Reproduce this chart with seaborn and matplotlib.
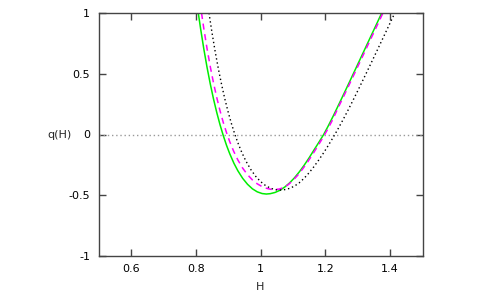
import numpy as np
import pandas as pd
import matplotlib
matplotlib.use('Agg')
import matplotlib.pyplot as plt
import seaborn as sns

# values (left branch, minimum, right branch)
green_h = [0.808, 0.815, 0.825, 0.835, 0.845, 0.855, 0.865, 0.875, 0.885, 0.895,
           0.905, 0.918, 0.930, 0.945, 0.960, 0.975, 0.990, 1.005, 1.018,
           1.030, 1.045, 1.060, 1.075, 1.090, 1.105, 1.120, 1.135, 1.150, 1.165,
           1.180, 1.195, 1.210, 1.225, 1.240, 1.260, 1.280, 1.300, 1.320, 1.340,
           1.360, 1.375]
green_q = [1.000, 0.873, 0.705, 0.553, 0.416, 0.292, 0.181, 0.081, -0.008, -0.088,
           -0.158, -0.237, -0.298, -0.361, -0.410, -0.447, -0.472, -0.486, -0.490,
           -0.487, -0.477, -0.459, -0.432, -0.398, -0.356, -0.307, -0.252, -0.192, -0.128,
           -0.065, 0.000, 0.075, 0.155, 0.238, 0.350, 0.463, 0.577, 0.691, 0.805,
           0.919, 1.005]

magenta_h = [0.818, 0.825, 0.835, 0.845, 0.855, 0.865, 0.875, 0.885, 0.895, 0.905,
             0.917, 0.930, 0.945, 0.960, 0.975, 0.990, 1.005, 1.020, 1.032, 1.044,
             1.058, 1.072, 1.086, 1.100, 1.115, 1.130, 1.145, 1.160, 1.175, 1.190,
             1.205, 1.220, 1.240, 1.260, 1.280, 1.300, 1.320, 1.340, 1.360, 1.380]
magenta_q = [1.000, 0.873, 0.707, 0.558, 0.424, 0.304, 0.196, 0.100, 0.016, -0.059,
             -0.137, -0.209, -0.277, -0.331, -0.374, -0.406, -0.429, -0.444, -0.451, -0.453,
             -0.449, -0.436, -0.412, -0.378, -0.335, -0.284, -0.228, -0.167, -0.103, -0.037,
             0.032, 0.108, 0.222, 0.333, 0.445, 0.558, 0.671, 0.785, 0.898, 1.012]

black_h = [0.841, 0.850, 0.860, 0.870, 0.880, 0.890, 0.900, 0.910, 0.920, 0.930,
           0.942, 0.955, 0.970, 0.985, 1.000, 1.015, 1.030, 1.045, 1.059,
           1.074, 1.089, 1.104, 1.119, 1.134, 1.149, 1.164, 1.179, 1.194, 1.209,
           1.224, 1.239, 1.254, 1.269, 1.284, 1.300, 1.320, 1.340, 1.360, 1.380,
           1.400, 1.415]
black_q = [1.000, 0.843, 0.684, 0.540, 0.410, 0.292, 0.187, 0.092, 0.008, -0.067,
           -0.146, -0.219, -0.288, -0.344, -0.387, -0.419, -0.441, -0.454, -0.458,
           -0.454, -0.444, -0.426, -0.399, -0.362, -0.318, -0.268, -0.213, -0.154, -0.091,
           -0.025, 0.045, 0.118, 0.194, 0.273, 0.359, 0.469, 0.580, 0.692, 0.805,
           0.918, 1.003]

x_ticks = [0.6, 0.8, 1.0, 1.2, 1.4]
x_labels = ['0.6', '0.8', '1', '1.2', '1.4']
y_ticks = [-1, -0.5, 0, 0.5, 1]
y_labels = ['-1', '-0.5', '0', '0.5', '1']

sns.set_style('ticks')
plt.rcParams['font.family'] = ['DejaVu Sans']
plt.rcParams['font.size'] = 8

fig = plt.figure(figsize=(4.98, 2.99), dpi=100)
ax = fig.add_axes([98.5 / 498, 43 / 299, 324 / 498, 243 / 299])

# dotted zero axis
ax.axhline(0, color='#999999', linestyle=(0, (1, 2)), linewidth=1, zorder=1)

sns.lineplot(x=green_h, y=green_q, sort=False, estimator=None, ax=ax,
             color='#00ee00', linewidth=1.1)
sns.lineplot(x=magenta_h, y=magenta_q, sort=False, estimator=None, ax=ax,
             color='#ff00ff', linewidth=1.1, linestyle=(0, (4, 3)))
sns.lineplot(x=black_h, y=black_q, sort=False, estimator=None, ax=ax,
             color='black', linewidth=1.0, linestyle=(0, (1, 2)))

ax.set_xlim(0.5, 1.5)
ax.set_ylim(-1, 1)
ax.set_xticks(x_ticks)
ax.set_xticklabels(x_labels)
ax.set_yticks(y_ticks)
ax.set_yticklabels(y_labels)

for s in ax.spines.values():
    s.set_visible(True)
    s.set_color('#444444')
    s.set_linewidth(1)

ax.tick_params(direction='in', length=5, width=1, color='#444444',
               top=True, right=True, labelsize=8, pad=6, labelcolor='black')

ax.set_xlabel('H', fontsize=8)
ax.xaxis.set_label_coords(0.5, -0.128)
ax.xaxis.label.set_va('center')
ax.set_ylabel('q(H)', fontsize=8, rotation=0, ha='right', va='center')
ax.yaxis.set_label_coords(-0.082, 0.5)

fig.savefig('out.png', dpi=100)
